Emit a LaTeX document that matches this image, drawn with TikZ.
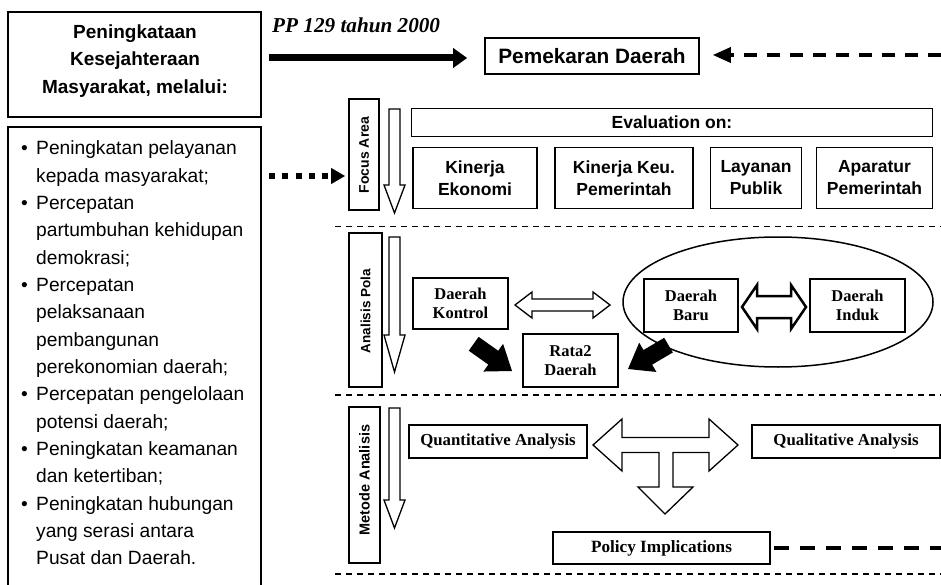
\documentclass[tikz,border=0pt]{standalone}
\usepackage{fontspec}
\setmainfont{Liberation Serif}
\setsansfont{Liberation Sans}
\usetikzlibrary{arrows.meta,calc}
\newcommand\fatarrow[2]{\fill[shift={#1}, rotate=#2] (0,0) -- (-23,-17) -- (-23,-8.5) -- (-47,-8.5) -- (-47,8.5) -- (-23,8.5) -- (-23,17) -- cycle;}
\begin{document}
\begin{tikzpicture}[x=1pt,y=-1pt,
  sbox/.style={draw, line width=1.6pt, inner sep=0pt, align=center, fill=white},
  tbox/.style={draw, line width=1.5pt, inner sep=0pt, align=center, fill=white, font=\bfseries\fontsize{16.5}{18.5}\selectfont},
  evtxt/.style={font=\sffamily\bfseries\fontsize{17.5}{22}\selectfont},
  toptxt/.style={inner sep=0pt, font=\sffamily\bfseries\fontsize{19}{27.5}\selectfont},
  listtxt/.style={inner sep=0pt, font=\sffamily\fontsize{19.2}{27.3}\selectfont},
  vtxt/.style={rotate=90, inner sep=0pt, font=\sffamily\bfseries\fontsize{#1}{#1}\selectfont},
  harrow/.style={draw, line width=1.3pt, fill=white, line join=miter},
  seprule/.style={line width=1.3pt, dash pattern=on 6pt off 5pt},
  thickarr/.style={line width=7pt, -{Triangle[length=14pt,width=19pt]}},
  dasharr/.style={line width=3.5pt, dash pattern=on 13pt off 10pt, -{Triangle[length=18pt,width=15pt]}},
  dotarr/.style={line width=6pt, dash pattern=on 6pt off 7.3pt, -{Triangle[length=14pt,width=15pt]}},
  dashline/.style={line width=4pt, dash pattern=on 15pt off 11pt}
]
\useasboundingbox (0,0) rectangle (941,585);
\clip (0,0) rectangle (941,585);
\fill[white] (0,0) rectangle (941,585);

% separators
\draw[seprule] (335,226.5) -- (941,226.5);
\draw[seprule] (335,395) -- (941,395);
\draw[seprule] (335,574) -- (941,574);

% left column
\node[sbox, line width=2pt, minimum width=253, minimum height=105] (top) at (134.5,64.5) {};
\node[toptxt, anchor=base] (t1) at (135,38.5) {Peningkataan};
\node[toptxt, anchor=base] (t2) at (135,66) {Kesejahteraan};
\node[toptxt, anchor=base] (t3) at (135,93.5) {Masyarakat, melalui:};

\node[sbox, line width=2pt, minimum width=253, minimum height=473] (listbox) at (134.5,363.5) {};
\foreach \t [count=\i from 0] in {Peningkatan pelayanan, kepada masyarakat;, Percepatan, partumbuhan kehidupan, demokrasi;, Percepatan, pelaksanaan, pembangunan, perekonomian daerah;, Percepatan pengelolaan, potensi daerah;, Peningkatan keamanan, dan ketertiban;, Peningkatan hubungan, yang serasi antara, Pusat dan Daerah.}
  \node[listtxt, anchor=base west] (l\i) at (36,{155+27.33*\i}) {\t};
\foreach \i in {0,2,5,9,11,13}
  \node[listtxt, anchor=base] (b\i) at (24.5,{155+27.33*\i}) {\textbullet};

% top row
\node[anchor=base west, inner sep=0pt, font=\bfseries\itshape\fontsize{21.2}{24}\selectfont] (pp) at (272,33) {PP 129 tahun 2000};
\node[sbox, minimum width=214, minimum height=36, font=\sffamily\bfseries\fontsize{20.8}{24}\selectfont] (pem) at (592,56) {Pemekaran Daerah};
\draw[thickarr] ([xshift=7pt,yshift=-2pt]top.east |- pem.west) -- ([xshift=-17pt,yshift=-2pt]pem.west);
\coordinate (rtop) at (941,55);
\draw[dasharr, shorten >=13pt] (rtop) -- (pem.east |- rtop);

% Focus area
\node[sbox, minimum width=30, minimum height=111] (focus) at (364,154.5) {};
\node[vtxt=14] (focustxt) at (364,155) {Focus Area};
\draw[harrow] (389,109) -- (400,109) -- (400,185) -- (405,185) -- (394.5,213) -- (384,185) -- (389,185) -- cycle;
\node[sbox, evtxt, minimum width=521, minimum height=28] (eval) at (672,122.5) {Evaluation on:};
\node[sbox, evtxt, minimum width=124, minimum height=61] (k1) at (475,178) {Kinerja\\Ekonomi};
\node[sbox, evtxt, minimum width=138, minimum height=61] (k2) at (624,178) {Kinerja Keu.\\Pemerintah};
\node[sbox, evtxt, minimum width=91, minimum height=61] (k3) at (756,178) {Layanan\\Publik};
\node[sbox, evtxt, minimum width=116, minimum height=61] (k4) at (874.5,178) {Aparatur\\Pemerintah};
\coordinate (d0) at ($(listbox.north east)+(7,50)$);
\draw[dotarr, shorten >=3pt] (d0) -- (focus.west |- d0);

% Analisis Pola
\node[sbox, minimum width=33, minimum height=154] (anal) at (365.5,310) {};
\node[vtxt=13.5] (analtxt) at (365.5,311) {Analisis Pola};
\draw[harrow] (389,237) -- (400,237) -- (400,335) -- (405,335) -- (394.5,372) -- (384,335) -- (389,335) -- cycle;
\draw[line width=1.5pt] (778,302) ellipse [x radius=155pt, y radius=65pt];
\node[tbox, minimum width=95, minimum height=51] (kon) at (460.5,303.5) {Daerah\\Kontrol};
\node[tbox, minimum width=94, minimum height=53] (baru) at (691,305.5) {Daerah\\Baru};
\node[tbox, minimum width=95, minimum height=53] (induk) at (857.5,305.5) {Daerah\\Induk};
\node[tbox, minimum width=95, minimum height=53] (rata) at (570.5,360.5) {Rata2\\Daerah};
\draw[harrow] (515,305) -- (532,292) -- (532,299) -- (593,299) -- (593,292) -- (610,305) -- (593,318) -- (593,311) -- (532,311) -- (532,318) -- cycle;
\draw[harrow, line width=2.5pt] (742,307) -- (757,285) -- (757,296) -- (791,296) -- (791,285) -- (806,307) -- (791,329) -- (791,318) -- (757,318) -- (757,329) -- cycle;
\fatarrow{(512,371)}{-35.4}
\fatarrow{(628,369)}{-149.5}

% Metode Analisis
\node[sbox, minimum width=31, minimum height=156] (met) at (364.5,485) {};
\node[vtxt=14.5] (mettxt) at (364.5,480) {Metode Analisis};
\draw[harrow] (389,408) -- (400,408) -- (400,500) -- (405,500) -- (394.5,528) -- (384,500) -- (389,500) -- cycle;
\node[tbox, minimum width=178, minimum height=33, font=\bfseries\fontsize{16.8}{18}\selectfont] (quan) at (498,441.5) {Quantitative Analysis};
\node[tbox, minimum width=188, minimum height=33, font=\bfseries\fontsize{16.8}{18}\selectfont] (qual) at (846,441.5) {Qualitative Analysis};
\draw[harrow] (593,445) -- (622,419) -- (622,437.5) -- (709,437.5) -- (709,419) -- (738,445) -- (709,471) -- (709,452.5) -- (673,452.5) -- (673,487) -- (693,487) -- (665,514) -- (638,487) -- (659,487) -- (659,452.5) -- (622,452.5) -- (622,471) -- cycle;
\node[tbox, minimum width=217, minimum height=32, font=\bfseries\fontsize{17.2}{18}\selectfont] (pol) at (661.5,548) {Policy Implications};
\coordinate (rbot) at (941,548);
\draw[dashline] ([xshift=3pt]pol.east) -- (rbot);
\end{tikzpicture}
\end{document}
